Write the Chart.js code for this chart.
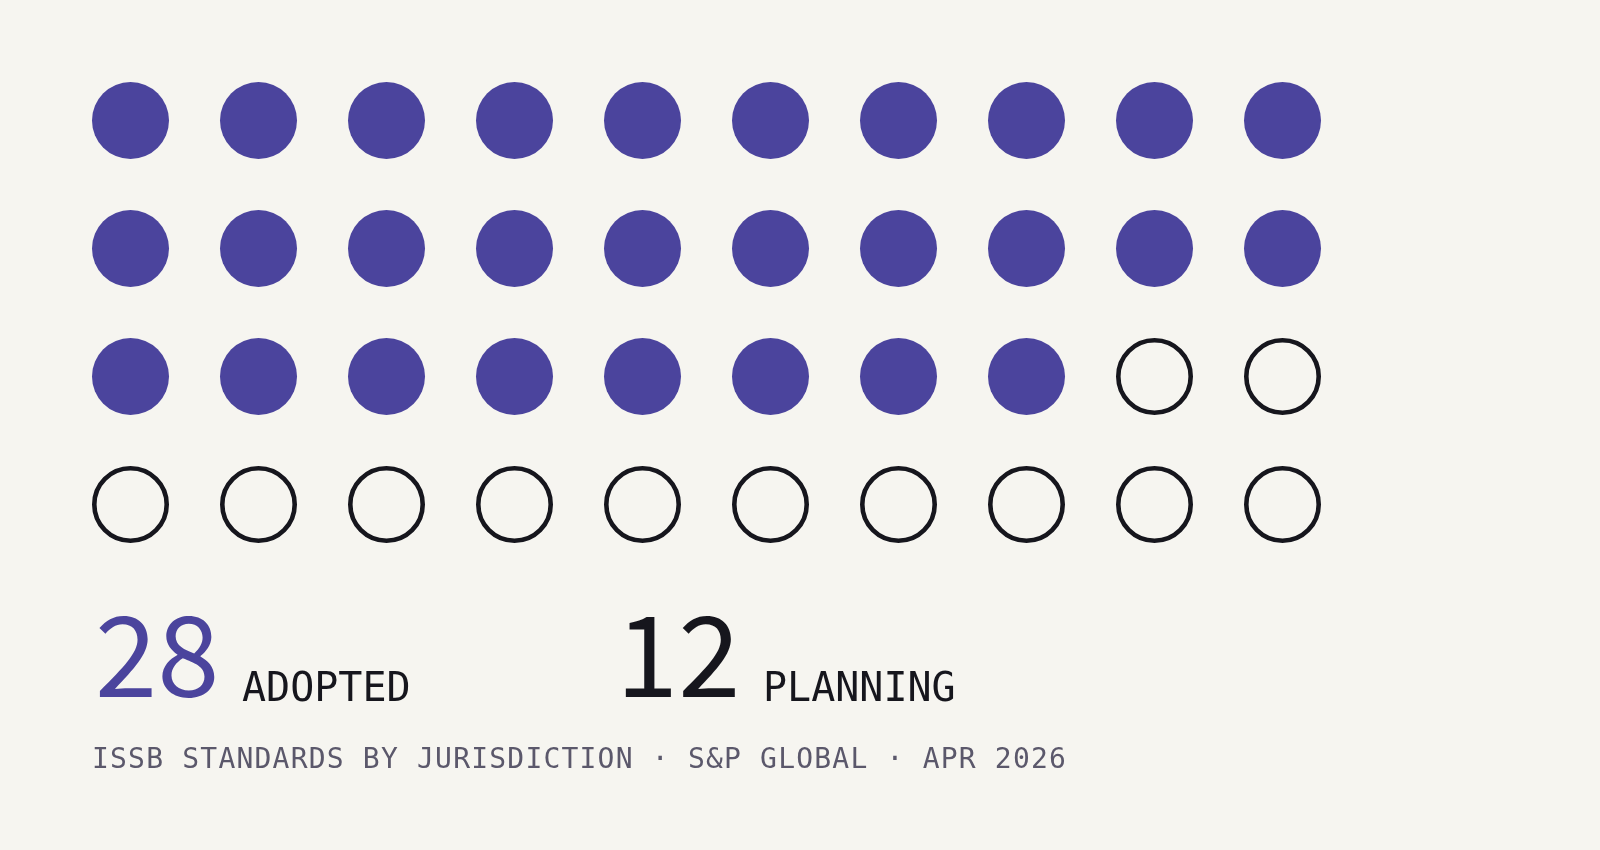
<!DOCTYPE html>
<html>
<head>
<meta charset="utf-8">
<script src="https://cdn.jsdelivr.net/npm/chart.js@4"></script>
<style>
  html, body { margin: 0; padding: 0; background: #f6f5f0; }
  #wrap { position: relative; width: 1600px; height: 850px; }
  #waffle { position: absolute; left: 0; top: 0; }
  .box { position: absolute; top: 587px; line-height: 1.1; }
  .lbl { position: absolute; top: 667px; font-family: "DejaVu Sans Mono", monospace; font-size: 40px;
         line-height: 1; color: #16161d; white-space: nowrap; }
  #sub { position: absolute; left: 92px; top: 745px; font-family: "DejaVu Sans Mono", monospace;
         font-size: 28px; line-height: 1; letter-spacing: 1.2px; color: #5b586b; white-space: nowrap; }
</style>
</head>
<body>
<div id="wrap">
  <canvas id="waffle" width="1600" height="850"></canvas>
  <div class="box" style="left:95px"><div id="n0" style="font-family:'Noto Sans CJK SC';font-size:112px;color:#4b449d">28</div></div>
  <div class="lbl" id="l0" style="left:242px"></div>
  <div class="box" style="left:616px"><div id="n1" style="font-family:'Noto Sans CJK SC';font-size:112px;color:#16161d">12</div></div>
  <div class="lbl" id="l1" style="left:763px"></div>
  <div id="sub">ISSB STANDARDS BY JURISDICTION · S&amp;P GLOBAL · APR 2026</div>
</div>
<script>
const statuses = ["ADOPTED", "PLANNING"];
const counts = [28, 12];
const columns = 10;
const rows = 4;

const FILL = "#4b449d";
const INK = "#16161d";

// lay the jurisdictions out row by row, adopted first
let adopted = [];
let planning = [];
let k = 0;
counts.forEach((n, s) => {
  for (let i = 0; i < n; i++) {
    const pt = { x: k % columns, y: Math.floor(k / columns) };
    if (s === 0) adopted.push(pt); else planning.push(pt);
    k++;
  }
});

// big numbers are in the markup; only rewrite them if the data changes
["n0", "n1"].forEach((id, i) => {
  const el = document.getElementById(id);
  if (el.textContent !== String(counts[i])) el.textContent = String(counts[i]);
});
document.getElementById("l0").textContent = statuses[0];
document.getElementById("l1").textContent = statuses[1];

const ctx = document.getElementById("waffle").getContext("2d");
new Chart(ctx, {
  type: "scatter",
  data: {
    datasets: [
      {
        label: statuses[0],
        data: adopted,
        pointRadius: 38.5,
        pointBackgroundColor: FILL,
        pointBorderWidth: 0,
      },
      {
        label: statuses[1],
        data: planning,
        pointRadius: 36.2,
        pointBackgroundColor: "rgba(0,0,0,0)",
        pointBorderColor: INK,
        pointBorderWidth: 4.6,
      },
    ],
  },
  options: {
    responsive: false,
    animation: false,
    events: [],
    layout: { padding: { left: 66.5, right: 253.5, top: 56.5, bottom: 281.5 } },
    plugins: { legend: { display: false }, tooltip: { enabled: false } },
    scales: {
      x: { type: "linear", min: -0.5, max: columns - 0.5, display: false },
      y: { type: "linear", min: -0.5, max: rows - 0.5, reverse: true, display: false },
    },
  },
});
</script>
</body>
</html>
